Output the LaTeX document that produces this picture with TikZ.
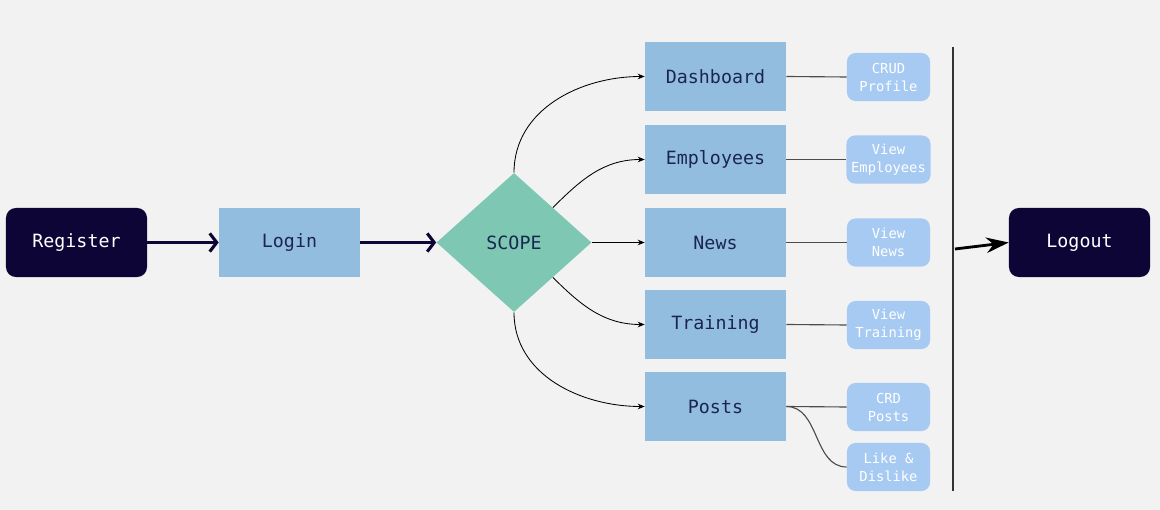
\documentclass[tikz,border=0pt]{standalone}
\usepackage{fontspec}
\setmonofont{DejaVu Sans Mono}
\usepackage{tikz}
\usetikzlibrary{arrows.meta, positioning, shapes.geometric}
\usepackage{xcolor}
\definecolor{bg}{HTML}{F2F2F2}
\definecolor{navy}{HTML}{0D0535}
\definecolor{boxblue}{HTML}{93BDDF}
\definecolor{subblue}{HTML}{A7CAF2}
\definecolor{scopegreen}{HTML}{7EC8B3}
\definecolor{ink}{HTML}{1A2550}
\tikzset{
  bigfont/.style={font=\ttfamily\fontsize{13}{15}\selectfont},
  endbox/.style={bigfont, fill=navy, rounded corners=7pt, text=white, minimum width=3.525cm, minimum height=1.725cm},
  pagebox/.style={bigfont, fill=boxblue, text=ink, minimum width=3.525cm, minimum height=1.725cm},
  subbox/.style={font=\ttfamily\fontsize{9.8}{12.8}\selectfont, fill=subblue, rounded corners=6pt, text=white, align=center, minimum width=2.075cm, minimum height=1.2cm},
  mainflow/.style={line width=2.2pt, draw=navy, -{Straight Barb[length=5pt,width=13pt]}},
  flow/.style={line width=0.6pt, -{Stealth[length=5pt,width=4pt]}},
  sublink/.style={line width=0.8pt, draw=black!70}
}

\begin{document}
\begin{tikzpicture}[x=0.025cm, y=-0.025cm]
        \fill[bg] (0,0) rectangle (1160,510);
        \useasboundingbox (0,0) rectangle (1160,510);
        % entry
        \node[endbox] (register) at (76.5,242.5) {Register};
        \node[pagebox] (login) at (289.5,242.5) {Login};
        \node[diamond, bigfont, fill=scopegreen, text=ink, inner sep=0pt, minimum width=3.875cm, minimum height=3.475cm] (scope) at (514,242.5) {SCOPE};
        \draw[mainflow] (register) -- (login);
        \draw[mainflow] (login) -- (scope);
        % pages
        \node[pagebox] (dashboard) at (715.5,76.5) {Dashboard};
        \node[pagebox] (employees) at (715.5,159.5) {Employees};
        \node[pagebox] (news) at (715.5,242.5) {News};
        \node[pagebox] (training) at (715.5,324.5) {Training};
        \node[pagebox] (posts) at (715.5,406.5) {Posts};
        \draw[flow] (scope.north) to[out=90, in=180] (dashboard.west);
        \draw[flow] (scope.north east) to[out=45, in=180] (employees.west);
        \draw[flow] (scope.east) -- (news.west);
        \draw[flow] (scope.south east) to[out=-45, in=180] (training.west);
        \draw[flow] (scope.south) to[out=-90, in=180] (posts.west);
        % actions
        \node[subbox] (crudprofile) at (888.5,77) {CRUD\\Profile};
        \node[subbox] (viewemployees) at (888.5,159.5) {View\\Employees};
        \node[subbox] (viewnews) at (888.5,242.5) {View\\News};
        \node[subbox] (viewtraining) at (888.5,325) {View\\Training};
        \node[subbox] (crdposts) at (888.5,407) {CRD\\Posts};
        \node[subbox] (likedislike) at (888.5,467) {Like \&\\Dislike};
        \draw[sublink] (dashboard.east) -- (crudprofile.west);
        \draw[sublink] (employees.east) -- (viewemployees.west);
        \draw[sublink] (news.east) -- (viewnews.west);
        \draw[sublink] (training.east) -- (viewtraining.west);
        \draw[sublink] (posts.east) -- (crdposts.west);
        \draw[sublink] (posts.east) to[out=0, in=180] (likedislike.west);
        % exit
        \coordinate (bartop) at (953,47);
        \coordinate (barbot) at (953,491);
        \coordinate (barout) at (955,249);
        \draw[line width=0.9pt, black!80] (bartop) -- (barbot);
        \node[endbox] (logout) at (1079.5,242.5) {Logout};
        \draw[line width=2pt, -{Stealth[length=16pt,width=11pt]}] (barout) -- (logout.west);
      \end{tikzpicture}
\end{document}
